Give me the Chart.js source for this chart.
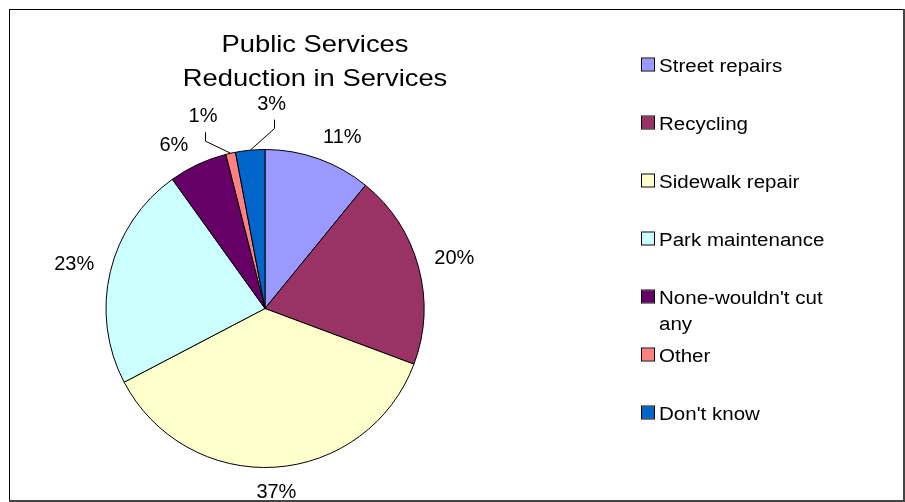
<!DOCTYPE html>
<html>
<head>
<meta charset="utf-8">
<script src="https://cdn.jsdelivr.net/npm/chart.js@4.4.1/dist/chart.umd.min.js"></script>
<style>
  html, body { margin: 0; padding: 0; background: #fff; }
  canvas { display: block; }
</style>
</head>
<body>
<canvas id="servicesChart" width="905" height="502"></canvas>
<script>
// Chart data
const titleLines = ["Public Services", "Reduction in Services"];
const services = ["Street repairs", "Recycling", "Sidewalk repair", "Park maintenance", "None-wouldn't cut any", "Other", "Don't know"];
const shares = [11, 20, 37, 23, 6, 1, 3];
const sliceColors = ["#9999FF", "#993366", "#FFFFCC", "#CCFFFF", "#660066", "#FF8080", "#0066CC"];

const fontFamily = "'Liberation Sans', Arial, sans-serif";

// draw text a bit wider than normal, like the old Excel rendering
function stretchedText(ctx, text, x, y, scaleX, align) {
    ctx.save();
    ctx.translate(x, y);
    ctx.scale(scaleX, 1);
    ctx.textAlign = align;
    ctx.fillText(text, 0, 0);
    ctx.restore();
}

function wrapWords(ctx, text, maxWidth) {
    const words = text.split(' ');
    const lines = [];
    let line = '';
    words.forEach(word => {
        const test = line ? line + ' ' + word : word;
        if (line && ctx.measureText(test).width > maxWidth) {
            lines.push(line);
            line = word;
        } else {
            line = test;
        }
    });
    lines.push(line);
    return lines;
}

// white background and the frame round the chart
const framePlugin = {
    id: 'frame',
    beforeDraw(chart) {
        const ctx = chart.ctx;
        ctx.save();
        ctx.fillStyle = '#fff';
        ctx.fillRect(0, 0, chart.width, chart.height);
        ctx.fillStyle = '#000';
        ctx.fillRect(9, 9, 894, 1);
        ctx.fillRect(9, 9, 1, 493);
        ctx.fillStyle = '#444';
        ctx.fillRect(903, 9, 2, 493);
        ctx.fillRect(9, 500, 896, 2);
        ctx.restore();
    }
};

const titlePlugin = {
    id: 'twoLineTitle',
    afterDraw(chart, args, opts) {
        const ctx = chart.ctx;
        ctx.save();
        ctx.fillStyle = '#000';
        ctx.font = opts.size + 'px ' + fontFamily;
        titleLines.forEach((line, i) => {
            stretchedText(ctx, line, opts.x, opts.y + i * opts.lineHeight, opts.scaleX, 'center');
        });
        ctx.restore();
    }
};

// percentage labels outside the slices, with leader lines for the thin ones
const sliceLabels = {
    id: 'sliceLabels',
    afterDatasetsDraw(chart, args, opts) {
        const ctx = chart.ctx;
        const arcs = chart.getDatasetMeta(0).data;
        ctx.save();
        ctx.font = opts.size + 'px ' + fontFamily;
        ctx.fillStyle = '#000';
        ctx.strokeStyle = '#000';
        ctx.lineWidth = 1;
        ctx.textAlign = 'center';
        arcs.forEach((arc, i) => {
            const mid = (arc.startAngle + arc.endAngle) / 2;
            const text = shares[i] + '%';
            const w = ctx.measureText(text).width;
            const call = opts.callouts[i];
            const nudge = opts.nudges[i] || 0;
            let ang = mid + nudge * Math.PI / 180;
            let dist;
            if (call) {
                ang = mid + call.shift * Math.PI / 180;
                dist = arc.outerRadius + call.dist;
            } else {
                const ext = Math.abs(Math.cos(ang)) * w / 2 + Math.abs(Math.sin(ang)) * opts.capHeight / 2;
                dist = arc.outerRadius + opts.gap + ext;
            }
            const lx = arc.x + Math.cos(ang) * dist;
            const ly = arc.y + Math.sin(ang) * dist;
            ctx.fillText(text, lx, ly + opts.capHeight / 2);
            if (call) {
                const ex = arc.x + Math.cos(mid) * arc.outerRadius;
                const ey = arc.y + Math.sin(mid) * arc.outerRadius;
                const sx = Math.round(lx) + 2.5;
                ctx.beginPath();
                ctx.moveTo(sx, ly + 17);
                ctx.lineTo(sx, ly + 26);
                ctx.lineTo(ex, ey);
                ctx.stroke();
            }
        });
        ctx.restore();
    }
};

// legend on the right, one row every 58px, long names wrap
const sideLegend = {
    id: 'sideLegend',
    afterDraw(chart, args, opts) {
        const ctx = chart.ctx;
        const colors = chart.data.datasets[0].backgroundColor;
        ctx.save();
        ctx.font = opts.size + 'px ' + fontFamily;
        chart.data.labels.forEach((label, i) => {
            const cy = opts.top + i * opts.rowStep;
            ctx.fillStyle = colors[i];
            ctx.fillRect(opts.x, cy - 6, 12, 12);
            ctx.strokeStyle = '#000';
            ctx.lineWidth = 1;
            ctx.strokeRect(opts.x - 0.5, cy - 6.5, 13, 13);
            ctx.fillStyle = '#000';
            const lines = wrapWords(ctx, label, opts.maxWidth / opts.scaleX);
            lines.forEach((line, j) => {
                stretchedText(ctx, line, opts.x + 17, cy + 7 + j * opts.lineHeight, opts.scaleX, 'left');
            });
        });
        ctx.restore();
    }
};

const ctx = document.getElementById('servicesChart').getContext('2d');

const servicesChart = new Chart(ctx, {
    type: 'pie',
    data: {
        labels: services,
        datasets: [{
            data: shares,
            backgroundColor: sliceColors,
            borderColor: '#000',
            borderWidth: 1,
            radius: 159
        }]
    },
    options: {
        responsive: false,
        animation: false,
        layout: {
            padding: { left: 60, right: 435, top: 140, bottom: 25 }
        },
        plugins: {
            legend: { display: false },
            tooltip: { enabled: false },
            twoLineTitle: { x: 315, y: 52, lineHeight: 34, size: 24, scaleX: 1.14 },
            sliceLabels: {
                size: 20,
                capHeight: 14,
                gap: 16,
                nudges: { 0: 4.5, 4: -4 },
                callouts: { 5: { shift: -5.3, dist: 44 }, 6: { shift: 7.2, dist: 47 } }
            },
            sideLegend: { x: 642, top: 64.5, rowStep: 58, lineHeight: 26, size: 18, scaleX: 1.14, maxWidth: 175 }
        }
    },
    plugins: [framePlugin, titlePlugin, sliceLabels, sideLegend]
});
</script>
</body>
</html>
